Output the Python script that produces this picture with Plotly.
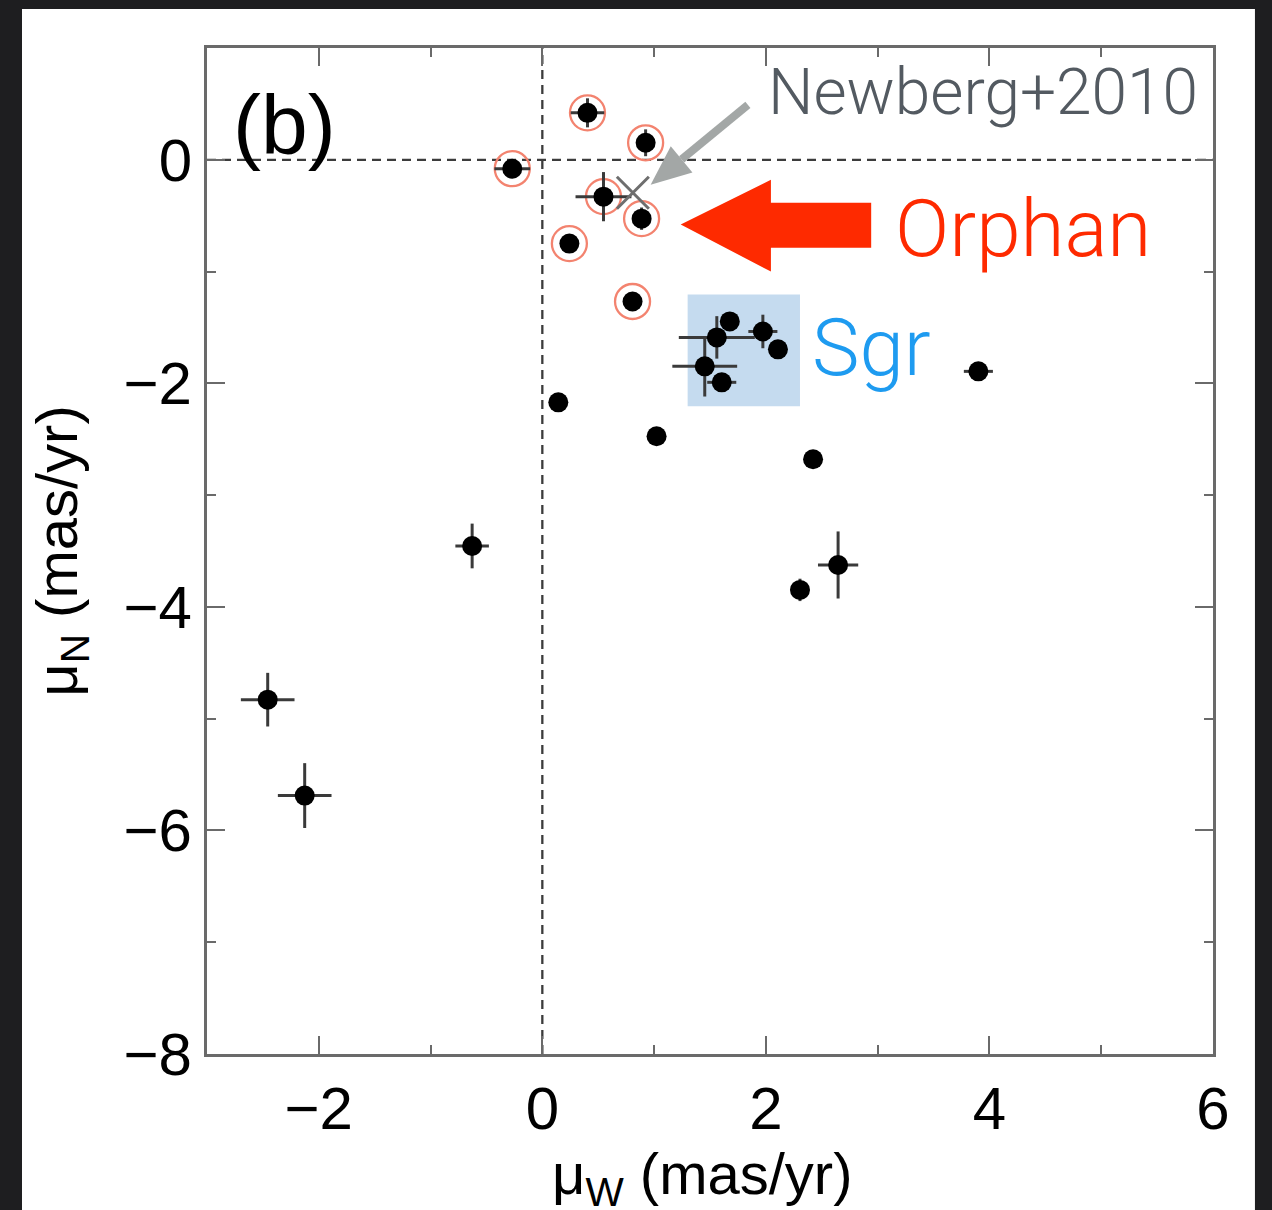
import plotly.graph_objects as go

# ---- data ----
# Orphan-stream candidates (circled in red)
orph_x = [0.404, 0.924, -0.269, 0.547, 0.888, 0.242, 0.807]
orph_y = [0.420, 0.152, -0.080, -0.330, -0.527, -0.750, -1.268]
orph_ex = [0.15, 0.05, 0.16, 0.25, 0.05, 0.0, 0.0]
orph_ey = [0.13, 0.12, 0.08, 0.22, 0.10, 0.0, 0.0]

# Sgr group (inside the blue box)
sgr_x = [1.677, 1.561, 1.973, 2.108, 1.453, 1.605]
sgr_y = [-1.446, -1.589, -1.536, -1.696, -1.848, -1.991]
sgr_ex = [0.05, 0.34, 0.13, 0.0, 0.29, 0.13]
sgr_ey = [0.08, 0.19, 0.15, 0.0, 0.27, 0.0]

# other measurements
oth_x = [3.901, 1.022, 2.422, 0.143, -0.628, 2.305, 2.646, -2.457, -2.126]
oth_y = [-1.893, -2.473, -2.679, -2.170, -3.455, -3.848, -3.625, -4.830, -5.688]
oth_ex = [0.13, 0.0, 0.0, 0.0, 0.15, 0.0, 0.18, 0.24, 0.24]
oth_ey = [0.05, 0.0, 0.0, 0.0, 0.20, 0.10, 0.30, 0.24, 0.29]

# Newberg+2010 reference value
newberg_x = [0.81]
newberg_y = [-0.295]

# Sgr box extent
sgr_box_x = [1.30, 2.305]
sgr_box_y = [-2.205, -1.205]

x_ticks = [-2, 0, 2, 4, 6]
y_ticks = [0, -2, -4, -6, -8]

FONT = "Liberation Sans, Arial, Helvetica, sans-serif"
AX = "#6a6a6a"
EBC = "#3a3a3a"

fig = go.Figure()

# red rings
fig.add_trace(go.Scatter(
    x=orph_x, y=orph_y, mode="markers",
    marker=dict(symbol="circle-open", size=35, color="#f3836f",
                line=dict(width=2.3, color="#f3836f")),
    showlegend=False, hoverinfo="skip"))

def dots(xs, ys, ex, ey):
    fig.add_trace(go.Scatter(
        x=xs, y=ys, mode="markers",
        marker=dict(symbol="circle", size=20, color="black"),
        error_x=dict(type="data", array=ex, width=0, thickness=3, color=EBC),
        error_y=dict(type="data", array=ey, width=0, thickness=3, color=EBC),
        showlegend=False))

dots(orph_x, orph_y, orph_ex, orph_ey)
dots(sgr_x, sgr_y, sgr_ex, sgr_ey)
dots(oth_x, oth_y, oth_ex, oth_ey)

fig.add_trace(go.Scatter(
    x=newberg_x, y=newberg_y, mode="markers",
    marker=dict(symbol="x-thin-open", size=32, color="#6e6e6e",
                line=dict(width=3, color="#6e6e6e")),
    showlegend=False))

GREY_ARROW = "#a3a7a6"
shapes = [
    # white panel over the dark background
    dict(type="rect", xref="paper", yref="paper",
         x0=-0.1839, x1=1.0417, y0=-0.2, y1=1.0388,
         fillcolor="white", line=dict(width=0), layer="below"),
    # Sgr highlight box
    dict(type="rect", xref="x", yref="y",
         x0=sgr_box_x[0], x1=sgr_box_x[1], y0=sgr_box_y[0], y1=sgr_box_y[1],
         fillcolor="#c5dbef", line=dict(width=0), layer="below"),
    # dashed zero lines
    dict(type="line", xref="x", yref="paper", x0=0, x1=0, y0=0, y1=1,
         line=dict(color="#3c3c3c", width=2.3, dash="9px,6px"), layer="below"),
    dict(type="line", xref="paper", yref="y", x0=0, x1=1, y0=0, y1=0,
         line=dict(color="#3c3c3c", width=2.3, dash="9px,6px"), layer="below"),
    # big red arrow
    dict(type="path", xref="x", yref="y",
         path="M 1.238,-0.580 L 2.045,-0.179 L 2.045,-0.384 L 2.942,-0.384 "
              "L 2.942,-0.786 L 2.045,-0.786 L 2.045,-1.0 Z",
         fillcolor="#fe2a00", line=dict(width=0), layer="above"),
    # grey arrow pointing at the Newberg+2010 value
    dict(type="line", xref="x", yref="y", x0=1.839, y0=0.491, x1=1.246, y1=0.004,
         line=dict(color=GREY_ARROW, width=8), layer="above"),
    dict(type="path", xref="x", yref="y",
         path="M 0.969,-0.223 L 1.343,-0.113 L 1.149,0.121 Z",
         fillcolor=GREY_ARROW, line=dict(width=0), layer="above"),
]

annotations = [
    dict(x=-2.305, y=0.312, xref="x", yref="y", text="(b)", showarrow=False,
         font=dict(family=FONT, size=84, color="black")),
    dict(x=3.946, y=0.598, xref="x", yref="y", text="Newberg+2010", showarrow=False,
         font=dict(family="Roboto, " + FONT, size=64, color="#535a61", weight=300)),
    dict(x=4.296, y=-0.62, xref="x", yref="y", text="Orphan", showarrow=False,
         font=dict(family="Roboto, " + FONT, size=80, color="#fe2a00", weight=300)),
    dict(x=2.942, y=-1.68, xref="x", yref="y", text="Sgr", showarrow=False,
         font=dict(family="Roboto, " + FONT, size=80, color="#1e9bf0", weight=300)),
    # x-axis title (sits at the bottom edge, as in the reference)
    dict(x=0.492, y=-0.123, xref="paper", yref="paper", text="μ<sub>W</sub> (mas/yr)",
         showarrow=False, xanchor="center", yanchor="middle",
         font=dict(family=FONT, size=58, color="black")),
]

axis_common = dict(
    showline=True, linecolor=AX, linewidth=3, mirror="ticks",
    ticks="inside", ticklen=18, tickwidth=2, tickcolor=AX,
    showgrid=False, zeroline=False,
    tickfont=dict(family=FONT, size=60, color="black"),
    minor=dict(ticks="inside", ticklen=9, tickwidth=2, tickcolor=AX, dtick=1,
               showgrid=False),
)

fig.update_layout(
    width=1272, height=1210,
    margin=dict(l=207, r=59, t=48, b=156),
    paper_bgcolor="#1e1e20", plot_bgcolor="white",
    xaxis=dict(range=[-3, 6], tickvals=x_ticks, autorange=False,
               **axis_common),
    yaxis=dict(range=[-8, 1], tickvals=y_ticks, autorange=False,
               title=dict(text="μ<sub>N</sub> (mas/yr)", standoff=28,
                          font=dict(family=FONT, size=58, color="black")),
               **axis_common),
    shapes=shapes, annotations=annotations,
)

fig.write_html("out.html")
